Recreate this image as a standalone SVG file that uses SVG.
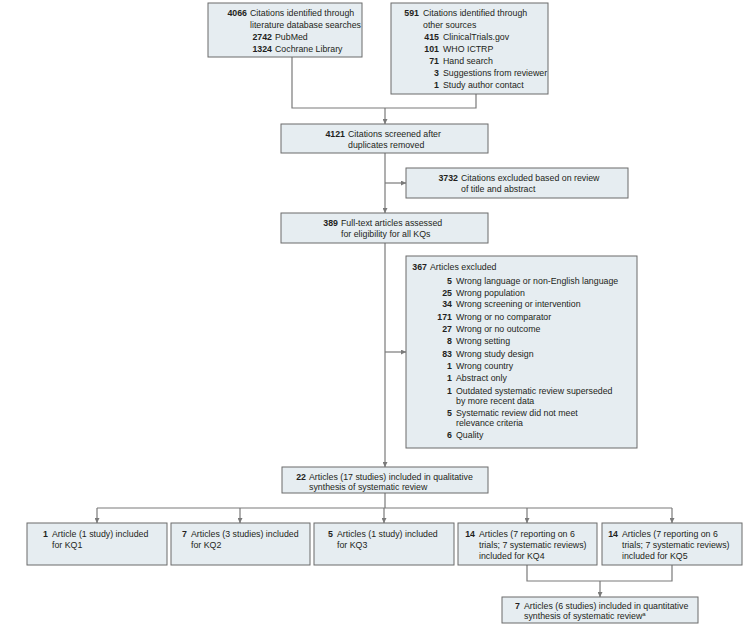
<svg xmlns="http://www.w3.org/2000/svg" width="751" height="634" viewBox="0 0 751 634">
<defs>
<style>
.box{fill:#e6edf1;stroke:#6b6b6b;stroke-width:1}
text{font-family:"Liberation Sans",Arial,sans-serif;font-size:8.8px;fill:#231f20}
.n{font-weight:bold;text-anchor:end}
.c{fill:none;stroke:#7a7a7a;stroke-width:1.2}
</style>
<marker id="ah" viewBox="0 0 6 6" refX="6" refY="3" markerWidth="5" markerHeight="5" orient="auto" markerUnits="userSpaceOnUse">
<path d="M0,0 L6,3 L0,6 z" fill="#7a7a7a"/>
</marker>
</defs>
<rect width="751" height="634" fill="#ffffff"/>

<g id="connectors">
<polyline class="c" points="292,57 292,108 476,108 476,94"/>
<line class="c" x1="385" y1="108" x2="385" y2="124" marker-end="url(#ah)"/>
<line class="c" x1="385" y1="153" x2="385" y2="213" marker-end="url(#ah)"/>
<line class="c" x1="385" y1="183" x2="406" y2="183" marker-end="url(#ah)"/>
<line class="c" x1="385" y1="243" x2="385" y2="467" marker-end="url(#ah)"/>
<line class="c" x1="385" y1="352" x2="406" y2="352" marker-end="url(#ah)"/>
<polyline class="c" points="385,493 385,508"/>
<polyline class="c" points="97,508 672,508"/>
<line class="c" x1="97" y1="508" x2="97" y2="523" marker-end="url(#ah)"/>
<line class="c" x1="240" y1="508" x2="240" y2="523" marker-end="url(#ah)"/>
<line class="c" x1="384" y1="508" x2="384" y2="523" marker-end="url(#ah)"/>
<line class="c" x1="527" y1="508" x2="527" y2="523" marker-end="url(#ah)"/>
<line class="c" x1="672" y1="508" x2="672" y2="523" marker-end="url(#ah)"/>
<polyline class="c" points="527,565 527,581 672,581 672,565"/>
<line class="c" x1="600" y1="581" x2="600" y2="597" marker-end="url(#ah)"/>
</g>

<g id="n4066">
<rect class="box" x="208" y="3" width="154" height="54"/>
<text class="n" x="247" y="16">4066</text>
<text x="250" y="16">Citations identified through</text>
<text x="250" y="28">literature database searches</text>
<text class="n" x="272" y="40">2742</text>
<text x="275" y="40">PubMed</text>
<text class="n" x="272" y="52">1324</text>
<text x="275" y="52">Cochrane Library</text>
</g>

<g id="n591">
<rect class="box" x="391" y="3" width="157" height="91"/>
<text class="n" x="419" y="16">591</text>
<text x="423" y="16">Citations identified through</text>
<text x="423" y="28">other sources</text>
<text class="n" x="439" y="40">415</text>
<text x="443" y="40">ClinicalTrials.gov</text>
<text class="n" x="439" y="52">101</text>
<text x="443" y="52">WHO ICTRP</text>
<text class="n" x="439" y="64">71</text>
<text x="443" y="64">Hand search</text>
<text class="n" x="439" y="76">3</text>
<text x="443" y="76">Suggestions from reviewer</text>
<text class="n" x="439" y="88">1</text>
<text x="443" y="88">Study author contact</text>
</g>

<g id="n4121">
<rect class="box" x="281" y="124" width="207" height="29"/>
<text class="n" x="345" y="137">4121</text>
<text x="348" y="137">Citations screened after</text>
<text x="348" y="148">duplicates removed</text>
</g>

<g id="n3732">
<rect class="box" x="406" y="168" width="222" height="30"/>
<text class="n" x="458" y="181">3732</text>
<text x="461" y="181">Citations excluded based on review</text>
<text x="461" y="192">of title and abstract</text>
</g>

<g id="n389">
<rect class="box" x="281" y="213" width="207" height="30"/>
<text class="n" x="338" y="226">389</text>
<text x="341" y="226">Full-text articles assessed</text>
<text x="341" y="237">for eligibility for all KQs</text>
</g>

<g id="n367">
<rect class="box" x="406" y="256" width="231" height="192"/>
<text class="n" x="427" y="270">367</text>
<text x="430" y="270">Articles excluded</text>
<text class="n" x="452" y="284">5</text><text x="456" y="284">Wrong language or non-English language</text>
<text class="n" x="452" y="296">25</text><text x="456" y="296">Wrong population</text>
<text class="n" x="452" y="307">34</text><text x="456" y="307">Wrong screening or intervention</text>
<text class="n" x="452" y="320">171</text><text x="456" y="320">Wrong or no comparator</text>
<text class="n" x="452" y="332">27</text><text x="456" y="332">Wrong or no outcome</text>
<text class="n" x="452" y="344">8</text><text x="456" y="344">Wrong setting</text>
<text class="n" x="452" y="357">83</text><text x="456" y="357">Wrong study design</text>
<text class="n" x="452" y="369">1</text><text x="456" y="369">Wrong country</text>
<text class="n" x="452" y="381">1</text><text x="456" y="381">Abstract only</text>
<text class="n" x="452" y="394">1</text><text x="456" y="394">Outdated systematic review superseded</text>
<text x="456" y="404">by more recent data</text>
<text class="n" x="452" y="416">5</text><text x="456" y="416">Systematic review did not meet</text>
<text x="456" y="426">relevance criteria</text>
<text class="n" x="452" y="438">6</text><text x="456" y="438">Quality</text>
</g>

<g id="n22">
<rect class="box" x="282" y="467" width="206" height="26"/>
<text class="n" x="306" y="480">22</text>
<text x="309" y="480">Articles (17 studies) included in qualitative</text>
<text x="309" y="490">synthesis of systematic review</text>
</g>

<g id="kq1">
<rect class="box" x="27" y="523" width="140" height="42"/>
<text class="n" x="48" y="537">1</text>
<text x="52" y="537">Article (1 study) included</text>
<text x="52" y="548">for KQ1</text>
</g>

<g id="kq2">
<rect class="box" x="171" y="523" width="139" height="42"/>
<text class="n" x="187" y="537">7</text>
<text x="191" y="537">Articles (3 studies) included</text>
<text x="191" y="548">for KQ2</text>
</g>

<g id="kq3">
<rect class="box" x="314" y="523" width="140" height="42"/>
<text class="n" x="333" y="537">5</text>
<text x="337" y="537">Articles (1 study) included</text>
<text x="337" y="548">for KQ3</text>
</g>

<g id="kq4">
<rect class="box" x="458" y="523" width="139" height="42"/>
<text class="n" x="475" y="537">14</text>
<text x="479" y="537">Articles (7 reporting on 6</text>
<text x="479" y="548">trials; 7 systematic reviews)</text>
<text x="479" y="559">included for KQ4</text>
</g>

<g id="kq5">
<rect class="box" x="602" y="523" width="140" height="42"/>
<text class="n" x="618" y="537">14</text>
<text x="622" y="537">Articles (7 reporting on 6</text>
<text x="622" y="548">trials; 7 systematic reviews)</text>
<text x="622" y="559">included for KQ5</text>
</g>

<g id="n7">
<rect class="box" x="502" y="597" width="196" height="26"/>
<text class="n" x="520" y="609">7</text>
<text x="524" y="609">Articles (6 studies) included in quantitative</text>
<text x="524" y="619">synthesis of systematic review<tspan font-size="6" dy="-3">a</tspan></text>
</g>
</svg>
